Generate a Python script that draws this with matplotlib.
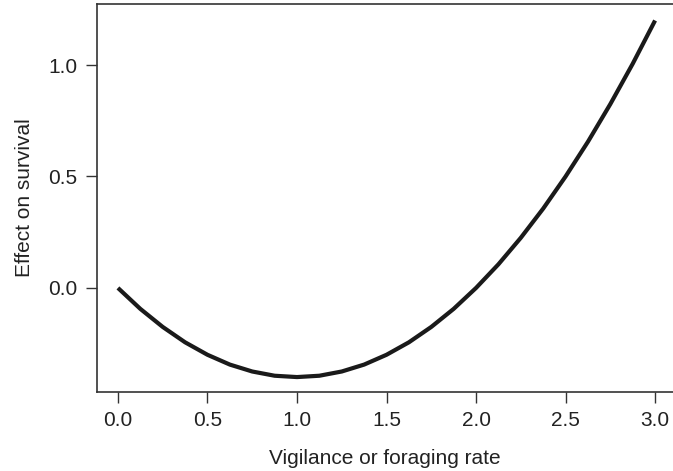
import numpy as np
import matplotlib.pyplot as plt

plt.rcParams['font.family'] = ['Liberation Sans', 'DejaVu Sans']

# values
rate = [0.0, 0.125, 0.25, 0.375, 0.5, 0.625, 0.75, 0.875, 1.0, 1.125, 1.25, 1.375,
        1.5, 1.625, 1.75, 1.875, 2.0, 2.125, 2.25, 2.375, 2.5, 2.625, 2.75, 2.875, 3.0]
effect = [0.0, -0.094, -0.175, -0.244, -0.3, -0.344, -0.375, -0.394, -0.4, -0.394,
          -0.375, -0.344, -0.3, -0.244, -0.175, -0.094, 0.0, 0.106, 0.225, 0.356,
          0.5, 0.656, 0.825, 1.006, 1.2]
xticks = [0.0, 0.5, 1.0, 1.5, 2.0, 2.5, 3.0]
yticks = [0.0, 0.5, 1.0]

fig = plt.figure(figsize=(6.73, 4.71), dpi=100)
ax = fig.add_axes([97/673, (471-392)/471, 1 - 97/673, (392-4)/471])

ax.plot(rate, effect, color='#1a1a1a', lw=3.0, solid_capstyle='butt',
        solid_joinstyle='round')

ax.set_xlim(-0.117, 3.1)
ax.set_ylim(-0.467, 1.274)
ax.set_xticks(xticks)
ax.set_xticklabels(['%.1f' % t for t in xticks])
ax.set_yticks(yticks)
ax.set_yticklabels(['%.1f' % t for t in yticks])

ax.spines['right'].set_visible(False)
for s in ['left', 'top', 'bottom']:
    ax.spines[s].set_color('#333333')
    ax.spines[s].set_linewidth(1.2)
ax.tick_params(direction='out', length=8, width=1.0, color='#333333',
               labelsize=15, labelcolor='#222222', pad=6)

ax.set_xlabel('Vigilance or foraging rate', fontsize=15, color='#222222', labelpad=13)
ax.set_ylabel('Effect on survival', fontsize=15, color='#222222', labelpad=10)

fig.savefig('out.png', dpi=100)
